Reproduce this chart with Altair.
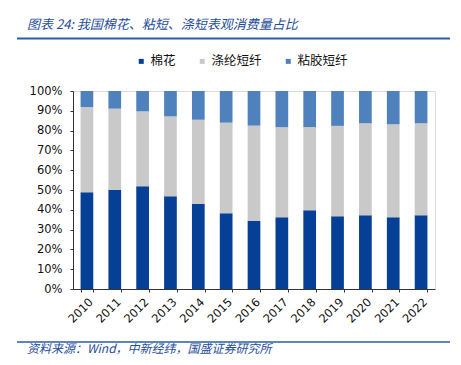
import altair as alt
import pandas as pd

years = [str(y) for y in range(2010, 2023)]
cotton_top = [48.9, 50.1, 51.9, 46.9, 43.0, 38.2, 34.3, 36.3, 39.8, 36.8, 37.3, 36.3, 37.3]
poly_top = [91.9, 91.1, 89.7, 87.2, 85.5, 84.0, 82.5, 81.7, 81.8, 82.4, 83.7, 83.2, 83.7]
series = ["棉花", "涤纶短纤", "粘胶短纤"]
colors = ["#053F96", "#C9C9C9", "#4F81BD"]

rows = []
for i, y in enumerate(years):
    c = cotton_top[i] / 100
    p = (poly_top[i] - cotton_top[i]) / 100
    v = (100 - poly_top[i]) / 100
    for k, (s, val) in enumerate(zip(series, [c, p, v])):
        rows.append({"year": y, "series": s, "value": val, "ord": k})
df = pd.DataFrame(rows)

W, H = 362, 198
LEFT, TOP = 65, 83

bars = alt.Chart(df).mark_bar(size=12.7).encode(
    x=alt.X("year:N", title=None, sort=years,
            scale=alt.Scale(paddingInner=0.55, paddingOuter=0.275),
            axis=alt.Axis(labelAngle=-45, labelFontSize=11.5, labelFont="DejaVu Sans",
                          labelColor="#111111", domainColor="#333333", tickColor="#333333",
                          tickBand="extent", tickSize=3, labelPadding=4, grid=False)),
    y=alt.Y("value:Q", title=None, stack="zero",
            scale=alt.Scale(domain=[0, 1], nice=False),
            axis=alt.Axis(format=".0%", values=[i / 10 for i in range(11)],
                          labelFontSize=11.5, labelFont="DejaVu Sans", labelColor="#111111",
                          domainColor="#333333", tickColor="#333333", tickSize=3,
                          grid=False, labelPadding=8)),
    color=alt.Color("series:N", sort=series,
                    scale=alt.Scale(domain=series, range=colors),
                    legend=alt.Legend(title=None, orient="none", direction="horizontal",
                                      legendX=62, legendY=-36, symbolType="square",
                                      symbolSize=25, symbolStrokeWidth=0,
                                      labelFontSize=12.5, labelFont="Noto Sans CJK SC",
                                      labelColor="#111111", columnPadding=20, labelOffset=3)),
    order=alt.Order("ord:Q", sort="ascending"),
)

one = pd.DataFrame({"a": [0]})

title = alt.Chart(one).mark_text(
    text="图表 24: 我国棉花、粘短、涤短表观消费量占比", align="left", baseline="middle",
    fontSize=13, fontStyle="italic", font="Noto Sans CJK SC", color="#1F4E9A"
).encode(x=alt.value(-46), y=alt.value(-66))

footer = alt.Chart(one).mark_text(
    text="资料来源：Wind，中新经纬，国盛证券研究所", align="left", baseline="middle",
    fontSize=12, fontStyle="italic", font="Noto Sans CJK SC", color="#1F4E9A"
).encode(x=alt.value(-46), y=alt.value(258))

rule_top = alt.Chart(one).mark_rule(color="#2A5CAA", strokeWidth=2).encode(
    x=alt.value(-56), x2=alt.value(377), y=alt.value(-52.5))
rule_bot = alt.Chart(one).mark_rule(color="#2A5CAA", strokeWidth=1.5).encode(
    x=alt.value(-56), x2=alt.value(377), y=alt.value(251))

chart = alt.layer(bars, title, footer, rule_top, rule_bot).properties(
    width=W, height=H,
    autosize=alt.AutoSizeParams(type="none"),
    padding={"left": LEFT, "top": TOP, "right": 445 - LEFT - W, "bottom": 349 - TOP - H},
).configure_view(stroke=None).configure(background="white")

chart.save("out.html", embed_options={"renderer": "svg", "actions": False})
